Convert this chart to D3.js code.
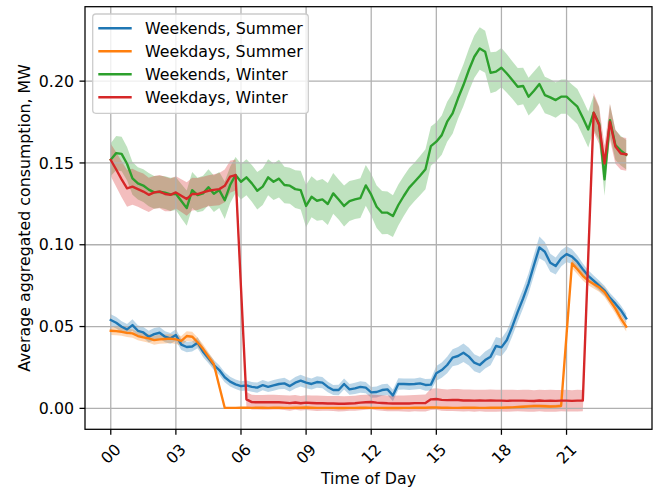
<!DOCTYPE html>
<html>
<head>
<meta charset="utf-8">
<script src="https://cdn.jsdelivr.net/npm/d3@7"></script>
<style>
  body { margin: 0; background: #ffffff; }
  text { font-family: "DejaVu Sans", sans-serif; fill: #000; }
</style>
</head>
<body>
<svg id="chart" width="662" height="490"></svg>
<script>
// Quarter-hour profiles of aggregated consumption (MW), 00:00 .. 23:45
const hourTicks = [0, 3, 6, 9, 12, 15, 18, 21];
const hourTickLabels = ["00", "03", "06", "09", "12", "15", "18", "21"];
const valueTicks = [0, 0.05, 0.10, 0.15, 0.20];

const seriesNames = ["Weekends, Summer", "Weekdays, Summer", "Weekends, Winter", "Weekdays, Winter"];
const seriesColors = ["#1f77b4", "#ff7f0e", "#2ca02c", "#d62728"];

const weekendsSummer = [
  0.0540,0.0523,0.0499,0.0483,0.0509,0.0474,0.0464,0.0438,0.0454,0.0462,
  0.0438,0.0428,0.0448,0.0390,0.0375,0.0378,0.0401,0.0346,0.0306,0.0265,
  0.0234,0.0190,0.0163,0.0147,0.0136,0.0140,0.0131,0.0127,0.0142,0.0131,
  0.0140,0.0149,0.0153,0.0136,0.0157,0.0169,0.0157,0.0149,0.0161,0.0157,
  0.0131,0.0112,0.0112,0.0149,0.0116,0.0122,0.0131,0.0127,0.0098,0.0100,
  0.0112,0.0116,0.0079,0.0149,0.0149,0.0147,0.0149,0.0153,0.0143,0.0145,
  0.0214,0.0234,0.0265,0.0310,0.0320,0.0340,0.0316,0.0279,0.0265,0.0295,
  0.0316,0.0381,0.0373,0.0418,0.0499,0.0590,0.0672,0.0764,0.0876,0.0984,
  0.0957,0.0890,0.0870,0.0917,0.0943,0.0927,0.0895,0.0850,0.0810,0.0780,
  0.0750,0.0720,0.0675,0.0640,0.0600,0.0550];
const weekendsSummerCI = [
  0.0035,0.0035,0.0033,0.0032,0.0035,0.0034,0.0033,0.0036,0.0037,0.0035,
  0.0034,0.0033,0.0036,0.0034,0.0032,0.0031,0.0033,0.0032,0.0031,0.0030,
  0.0030,0.0031,0.0030,0.0029,0.0030,0.0031,0.0030,0.0031,0.0032,0.0031,
  0.0033,0.0032,0.0034,0.0033,0.0035,0.0036,0.0034,0.0033,0.0035,0.0034,
  0.0032,0.0031,0.0032,0.0034,0.0033,0.0034,0.0035,0.0034,0.0033,0.0034,
  0.0035,0.0034,0.0036,0.0035,0.0034,0.0035,0.0034,0.0035,0.0036,0.0036,
  0.0045,0.0047,0.0050,0.0052,0.0055,0.0056,0.0054,0.0052,0.0050,0.0052,
  0.0053,0.0055,0.0054,0.0056,0.0058,0.0060,0.0060,0.0062,0.0064,0.0066,
  0.0060,0.0055,0.0052,0.0050,0.0048,0.0045,0.0040,0.0036,0.0034,0.0032,
  0.0031,0.0030,0.0030,0.0030,0.0030,0.0030];

const weekdaysSummer = [
  0.0474,0.0472,0.0468,0.0461,0.0458,0.0442,0.0434,0.0428,0.0417,0.0422,
  0.0424,0.0426,0.0422,0.0413,0.0442,0.0438,0.0404,0.0364,0.0316,0.0270,
  0.0135,0.0004,0.0003,0.0003,0.0004,0.0004,0.0003,0.0004,0.0004,0.0003,
  0.0004,0.0004,0.0003,0.0003,0.0004,0.0004,0.0005,0.0004,0.0003,0.0003,
  0.0003,0.0003,0.0002,0.0002,0.0003,0.0003,0.0004,0.0004,0.0003,0.0003,
  0.0003,0.0002,0.0002,0.0002,0.0003,0.0003,0.0004,0.0004,0.0004,0.0005,
  0.0005,0.0004,0.0004,0.0003,0.0003,0.0004,0.0004,0.0004,0.0003,0.0003,
  0.0004,0.0004,0.0004,0.0005,0.0006,0.0008,0.0010,0.0012,0.0014,0.0014,
  0.0013,0.0011,0.0012,0.0015,0.0450,0.0886,0.0850,0.0810,0.0780,0.0760,
  0.0740,0.0710,0.0660,0.0610,0.0550,0.0500];
const weekdaysSummerCI = [
  0.0025,0.0025,0.0024,0.0025,0.0026,0.0025,0.0026,0.0027,0.0028,0.0027,
  0.0028,0.0027,0.0028,0.0029,0.0030,0.0030,0.0029,0.0028,0.0027,0.0025,
  0.0015,0.0004,0.0003,0.0003,0.0003,0.0003,0.0003,0.0003,0.0003,0.0003,
  0.0003,0.0003,0.0003,0.0003,0.0003,0.0003,0.0004,0.0003,0.0003,0.0003,
  0.0003,0.0003,0.0002,0.0002,0.0003,0.0003,0.0003,0.0003,0.0003,0.0003,
  0.0003,0.0002,0.0002,0.0002,0.0003,0.0003,0.0003,0.0003,0.0003,0.0004,
  0.0004,0.0003,0.0003,0.0003,0.0003,0.0003,0.0003,0.0003,0.0003,0.0003,
  0.0003,0.0003,0.0003,0.0004,0.0005,0.0007,0.0009,0.0010,0.0012,0.0012,
  0.0011,0.0010,0.0010,0.0012,0.0020,0.0030,0.0030,0.0029,0.0028,0.0028,
  0.0028,0.0029,0.0030,0.0030,0.0030,0.0030];

const weekendsWinter = [
  0.1520,0.1560,0.1555,0.1495,0.1406,0.1375,0.1362,0.1337,0.1320,0.1324,
  0.1318,0.1308,0.1312,0.1267,0.1224,0.1334,0.1304,0.1314,0.1352,0.1312,
  0.1334,0.1272,0.1365,0.1426,0.1385,0.1412,0.1375,0.1330,0.1355,0.1412,
  0.1385,0.1404,0.1365,0.1361,0.1340,0.1334,0.1237,0.1293,0.1269,0.1277,
  0.1249,0.1314,0.1277,0.1237,0.1267,0.1277,0.1285,0.1363,0.1306,0.1232,
  0.1196,0.1196,0.1175,0.1243,0.1298,0.1349,0.1385,0.1422,0.1461,0.1603,
  0.1630,0.1670,0.1752,0.1803,0.1895,0.1976,0.2068,0.2149,0.2200,0.2180,
  0.2051,0.2058,0.2082,0.2047,0.2007,0.1966,0.1970,0.1905,0.1941,0.1982,
  0.1915,0.1901,0.1884,0.1905,0.1905,0.1874,0.1844,0.1776,0.1705,0.1807,
  0.1740,0.1400,0.1762,0.1610,0.1575,0.1550];
const weekendsWinterCI = [
  0.0100,0.0105,0.0105,0.0102,0.0100,0.0098,0.0100,0.0102,0.0100,0.0098,
  0.0100,0.0102,0.0100,0.0105,0.0108,0.0110,0.0105,0.0108,0.0110,0.0112,
  0.0110,0.0115,0.0112,0.0110,0.0108,0.0110,0.0112,0.0115,0.0112,0.0110,
  0.0112,0.0115,0.0112,0.0110,0.0115,0.0118,0.0130,0.0125,0.0122,0.0125,
  0.0128,0.0125,0.0122,0.0125,0.0122,0.0120,0.0122,0.0125,0.0128,0.0130,
  0.0132,0.0130,0.0128,0.0125,0.0122,0.0120,0.0118,0.0120,0.0122,0.0120,
  0.0118,0.0120,0.0122,0.0125,0.0125,0.0128,0.0130,0.0130,0.0130,0.0128,
  0.0125,0.0122,0.0120,0.0118,0.0115,0.0115,0.0112,0.0115,0.0118,0.0115,
  0.0112,0.0110,0.0108,0.0105,0.0105,0.0105,0.0108,0.0110,0.0110,0.0105,
  0.0100,0.0100,0.0095,0.0092,0.0090,0.0090];

const weekdaysWinter = [
  0.1518,0.1460,0.1400,0.1345,0.1355,0.1340,0.1325,0.1305,0.1320,0.1325,
  0.1310,0.1305,0.1320,0.1300,0.1280,0.1310,0.1310,0.1320,0.1330,0.1335,
  0.1340,0.1360,0.1416,0.1426,0.0737,0.0055,0.0038,0.0037,0.0037,0.0037,
  0.0038,0.0037,0.0035,0.0032,0.0036,0.0031,0.0035,0.0033,0.0031,0.0031,
  0.0030,0.0030,0.0028,0.0028,0.0030,0.0031,0.0035,0.0037,0.0039,0.0035,
  0.0033,0.0031,0.0030,0.0030,0.0030,0.0030,0.0032,0.0032,0.0033,0.0055,
  0.0057,0.0052,0.0050,0.0051,0.0051,0.0048,0.0049,0.0047,0.0048,0.0047,
  0.0048,0.0047,0.0047,0.0046,0.0047,0.0047,0.0047,0.0046,0.0045,0.0048,
  0.0046,0.0047,0.0046,0.0047,0.0047,0.0046,0.0047,0.0047,0.0927,0.1807,
  0.1732,0.1497,0.1752,0.1600,0.1558,0.1553];
const weekdaysWinterCI = [
  0.0100,0.0105,0.0110,0.0112,0.0110,0.0108,0.0110,0.0105,0.0100,0.0102,
  0.0105,0.0100,0.0098,0.0100,0.0102,0.0100,0.0098,0.0096,0.0095,0.0096,
  0.0098,0.0100,0.0098,0.0095,0.0070,0.0045,0.0045,0.0044,0.0045,0.0046,
  0.0045,0.0044,0.0045,0.0046,0.0045,0.0044,0.0045,0.0046,0.0047,0.0046,
  0.0045,0.0046,0.0047,0.0046,0.0045,0.0046,0.0047,0.0046,0.0045,0.0046,
  0.0047,0.0048,0.0047,0.0048,0.0049,0.0050,0.0050,0.0051,0.0052,0.0065,
  0.0066,0.0067,0.0066,0.0067,0.0068,0.0067,0.0066,0.0067,0.0066,0.0067,
  0.0068,0.0067,0.0066,0.0067,0.0066,0.0065,0.0066,0.0067,0.0066,0.0065,
  0.0066,0.0067,0.0066,0.0065,0.0066,0.0065,0.0066,0.0065,0.0090,0.0120,
  0.0115,0.0110,0.0110,0.0105,0.0100,0.0100];

const seriesValues = [weekendsSummer, weekdaysSummer, weekendsWinter, weekdaysWinter];
const seriesCI = [weekendsSummerCI, weekdaysSummerCI, weekendsWinterCI, weekdaysWinterCI];

// ---- layout ----
const plot = { left: 85, right: 652, top: 6.7, bottom: 429.3 };
const fontPx = 15.8;
const lineW = 2.375, gridW = 1.27, spineW = 1.27, tickLen = 5.5;

const svg = d3.select("#chart");

// time of day in hours, one slot per quarter hour
const slotHour = i => i / 4;
const lastHour = slotHour(weekendsSummer.length - 1);
const xPad = lastHour * 0.05;
const x = d3.scaleLinear().domain([-xPad, lastHour + xPad]).range([plot.left, plot.right]);
const y = d3.scaleLinear().domain([-0.0128, 0.2455]).range([plot.bottom, plot.top]);

const clip = svg.append("defs").append("clipPath").attr("id", "plotClip")
  .append("rect").attr("x", plot.left).attr("y", plot.top)
  .attr("width", plot.right - plot.left).attr("height", plot.bottom - plot.top);

// confidence bands
const bandLayer = svg.append("g").attr("clip-path", "url(#plotClip)");
seriesValues.forEach((vals, s) => {
  const ci = seriesCI[s];
  const area = d3.area()
    .x((d, i) => x(slotHour(i)))
    .y0((d, i) => y(d - ci[i]))
    .y1((d, i) => y(d + ci[i]));
  bandLayer.append("path")
    .attr("d", area(vals))
    .attr("fill", seriesColors[s])
    .attr("fill-opacity", 0.3)
    .attr("stroke", "none");
});

// grid
const grid = svg.append("g");
hourTicks.forEach(h => {
  grid.append("line").attr("x1", x(h)).attr("x2", x(h))
    .attr("y1", plot.top).attr("y2", plot.bottom)
    .attr("stroke", "#b0b0b0").attr("stroke-width", gridW);
});
valueTicks.forEach(v => {
  grid.append("line").attr("x1", plot.left).attr("x2", plot.right)
    .attr("y1", y(v)).attr("y2", y(v))
    .attr("stroke", "#b0b0b0").attr("stroke-width", gridW);
});

// mean lines
const lineLayer = svg.append("g").attr("clip-path", "url(#plotClip)");
const line = d3.line().x((d, i) => x(slotHour(i))).y(d => y(d));
seriesValues.forEach((vals, s) => {
  lineLayer.append("path")
    .attr("d", line(vals))
    .attr("fill", "none")
    .attr("stroke", seriesColors[s])
    .attr("stroke-width", lineW)
    .attr("stroke-linejoin", "round")
    .attr("stroke-linecap", "square");
});

// spines
svg.append("rect")
  .attr("x", plot.left).attr("y", plot.top)
  .attr("width", plot.right - plot.left).attr("height", plot.bottom - plot.top)
  .attr("fill", "none").attr("stroke", "#000").attr("stroke-width", spineW);

// x axis ticks and rotated labels
const xAxis = svg.append("g");
hourTicks.forEach((h, k) => {
  xAxis.append("line").attr("x1", x(h)).attr("x2", x(h))
    .attr("y1", plot.bottom).attr("y2", plot.bottom + tickLen)
    .attr("stroke", "#000").attr("stroke-width", spineW);
  xAxis.append("text")
    .attr("transform", `translate(${x(h)},${plot.bottom + 24.5}) rotate(-45)`)
    .attr("text-anchor", "middle")
    .attr("dy", "0.35em")
    .attr("font-size", fontPx)
    .text(hourTickLabels[k]);
});
svg.append("text")
  .attr("x", (plot.left + plot.right) / 2).attr("y", 484)
  .attr("text-anchor", "middle").attr("font-size", fontPx)
  .text("Time of Day");

// y axis ticks and labels
const yAxis = svg.append("g");
valueTicks.forEach(v => {
  yAxis.append("line").attr("x1", plot.left - tickLen).attr("x2", plot.left)
    .attr("y1", y(v)).attr("y2", y(v))
    .attr("stroke", "#000").attr("stroke-width", spineW);
  yAxis.append("text")
    .attr("x", plot.left - tickLen - 5.5).attr("y", y(v))
    .attr("dy", "0.36em")
    .attr("text-anchor", "end").attr("font-size", fontPx)
    .text(d3.format(".2f")(v));
});
svg.append("text")
  .attr("transform", `translate(30,${(plot.top + plot.bottom) / 2}) rotate(-90)`)
  .attr("text-anchor", "middle").attr("font-size", fontPx)
  .text("Average aggregated consumption, MW");

// legend
const legend = svg.append("g");
legend.append("rect")
  .attr("x", 92.7).attr("y", 14).attr("width", 215.6).attr("height", 99.3)
  .attr("rx", 3.2).attr("ry", 3.2)
  .attr("fill", "#fff").attr("fill-opacity", 0.8)
  .attr("stroke", "#cccccc").attr("stroke-width", 1.3);
seriesNames.forEach((name, s) => {
  const cy = 28.3 + s * 23;
  legend.append("line").attr("x1", 98.3).attr("x2", 131.7)
    .attr("y1", cy).attr("y2", cy)
    .attr("stroke", seriesColors[s]).attr("stroke-width", lineW);
  legend.append("text").attr("x", 145).attr("y", cy)
    .attr("dy", "0.36em").attr("font-size", fontPx)
    .text(name);
});
</script>
</body>
</html>
